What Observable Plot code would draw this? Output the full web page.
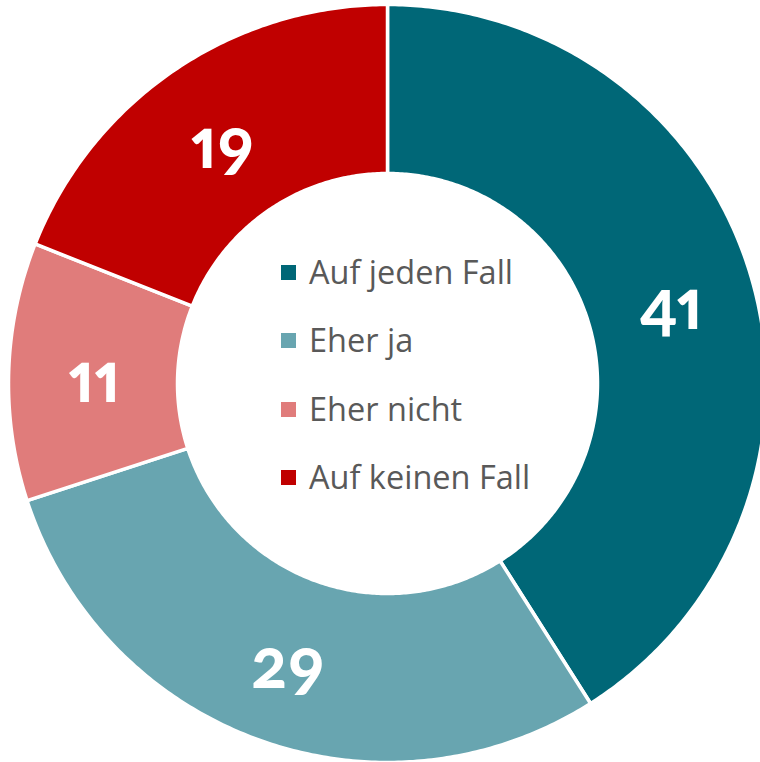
<!DOCTYPE html>
<html>
<head>
<meta charset="utf-8">
<script src="https://cdn.jsdelivr.net/npm/d3@7"></script>
<script src="https://cdn.jsdelivr.net/npm/@observablehq/plot@0.6"></script>
<style>
  html, body { margin: 0; padding: 0; background: #fff; }
  #wrap { position: relative; width: 760px; height: 762px; overflow: hidden; }
  #legend { position: absolute; left: 281px; top: 237px; font-family: "Open Sans", sans-serif; font-size: 32.5px; color: #595959; }
  #legend .row { display: flex; align-items: center; height: 68.5px; }
  #legend .sw { width: 15px; height: 15px; margin-right: 13px; margin-top: 2px; }
  .vlabels text { font-variant-numeric: oldstyle-nums proportional-nums; font-feature-settings: "onum" 1, "pnum" 1; }
</style>
</head>
<body>
<div id="wrap"></div>
<script>
const categories = ["Auf jeden Fall", "Eher ja", "Eher nicht", "Auf keinen Fall"];
const values = [41, 29, 11, 19];
const colors = ["#006777", "#68a5b0", "#e07c7b", "#c00000"];

const outerR = 379, innerR = 210, labelR = 294;
const total = d3.sum(values);
const points = [];
const labels = [];
let acc = 0;
categories.forEach((c, i) => {
  const a0 = acc / total * 2 * Math.PI;
  acc += values[i];
  const a1 = acc / total * 2 * Math.PI;
  const n = Math.max(8, Math.ceil((a1 - a0) / 0.01));
  for (let k = 0; k <= n; k++) {
    const a = a0 + (a1 - a0) * k / n;
    points.push({cat: c, x: outerR * Math.sin(a), y: outerR * Math.cos(a)});
  }
  for (let k = n; k >= 0; k--) {
    const a = a0 + (a1 - a0) * k / n;
    points.push({cat: c, x: innerR * Math.sin(a), y: innerR * Math.cos(a)});
  }
  const am = (a0 + a1) / 2;
  labels.push({cat: c, v: values[i], x: labelR * Math.sin(am), y: labelR * Math.cos(am)});
});

const chart = Plot.plot({
  width: 760, height: 762,
  margin: 0,
  x: {domain: [-387, 373], axis: null},
  y: {domain: [-379, 383], axis: null},
  color: {domain: categories, range: colors},
  marks: [
    Plot.line(points, {x: "x", y: "y", z: "cat", fill: "cat", stroke: "white", strokeWidth: 3.5, curve: "linear-closed"}),
    Plot.text(labels, {x: "x", y: "y", text: d => String(d.v), fill: "white", fontSize: 72, fontWeight: "bold",
      fontFamily: "Carlito, Lato, sans-serif", lineAnchor: "bottom", dy: 28, className: "vlabels"})
  ]
});
chart.style.display = "block";
const wrap = document.getElementById("wrap");
wrap.appendChild(chart);

const legend = document.createElement("div");
legend.id = "legend";
categories.forEach((c, i) => {
  const row = document.createElement("div");
  row.className = "row";
  const sw = document.createElement("div");
  sw.className = "sw";
  sw.style.background = colors[i];
  const t = document.createElement("span");
  t.textContent = c;
  row.appendChild(sw);
  row.appendChild(t);
  legend.appendChild(row);
});
wrap.appendChild(legend);
</script>
</body>
</html>
